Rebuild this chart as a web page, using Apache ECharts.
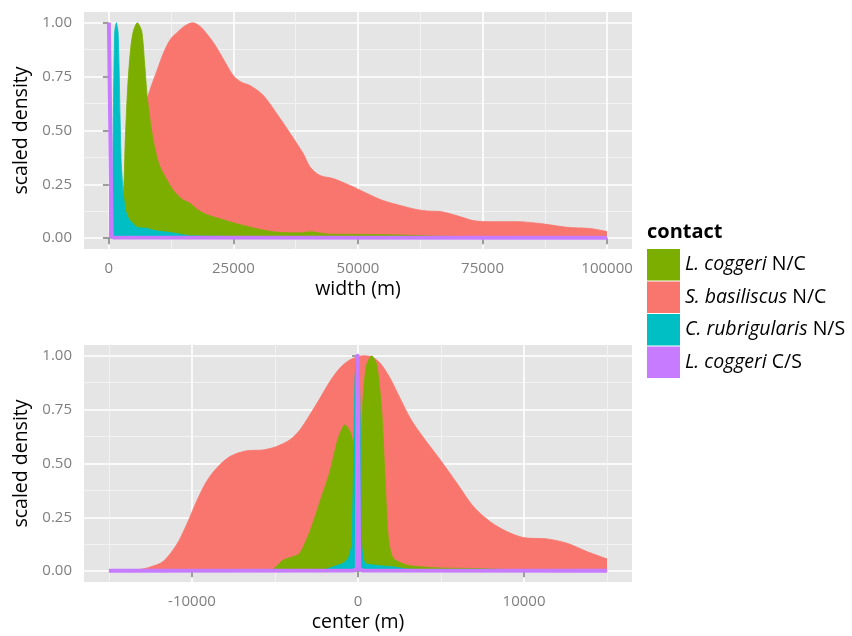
<!DOCTYPE html>
<html>
<head>
<meta charset="utf-8">
<script src="https://cdn.jsdelivr.net/npm/echarts@6/dist/echarts.min.js"></script>
<style>
  html, body { margin: 0; padding: 0; background: #ffffff; }
  #chart { width: 852px; height: 636px; }
</style>
</head>
<body>
<div id="chart"></div>
<script>
// Contact groups, in legend order
const groupNames = ['L. coggeri N/C', 'S. basiliscus N/C', 'C. rubrigularis N/S', 'L. coggeri C/S'];

// Axis breaks
const widthTicks = [0, 25000, 50000, 75000, 100000];
const widthMinor = [12500, 37500, 62500, 87500];
const centerTicks = [-10000, 0, 10000];
const centerMinor = [-15000, -5000, 5000, 15000];
const densityTicks = [0, 0.25, 0.5, 0.75, 1];
const densityMinor = [0.125, 0.375, 0.625, 0.875];

// Zone width: [width (m), scaled density]
const widthBasiliscusNC = [
  [0, 0.02], [2000, 0.12], [4000, 0.31], [6000, 0.51], [8200, 0.685], [9600, 0.775],
  [11100, 0.868], [12400, 0.925], [13700, 0.955], [15200, 0.985], [16800, 1.0], [18200, 0.985],
  [19600, 0.95], [21200, 0.9], [22900, 0.834], [24900, 0.757], [26500, 0.725], [28300, 0.709],
  [30900, 0.665], [33700, 0.578], [36400, 0.486], [39000, 0.393], [40400, 0.33], [42400, 0.291],
  [45000, 0.277], [48400, 0.245], [51800, 0.208], [55000, 0.175], [58500, 0.152], [61800, 0.133],
  [64000, 0.126], [66500, 0.124], [69800, 0.105], [73100, 0.082], [75900, 0.077], [82000, 0.077],
  [86600, 0.068], [91900, 0.051], [96600, 0.045], [100000, 0.031]
];
const widthCoggeriNC = [
  [0, 0.0], [1500, 0.02], [2400, 0.08], [3030, 0.265], [3230, 0.42], [3500, 0.574], [3840, 0.729],
  [4380, 0.884], [4900, 0.961], [5700, 1.0], [6590, 0.961], [7190, 0.806], [7710, 0.652],
  [8390, 0.528], [9060, 0.435], [10060, 0.342], [11400, 0.28], [13070, 0.218], [14740, 0.18],
  [16300, 0.162], [17600, 0.136], [19300, 0.113], [22300, 0.09], [25700, 0.067], [29700, 0.044],
  [33700, 0.028], [38400, 0.025], [40400, 0.03], [43700, 0.02], [50000, 0.018], [58500, 0.015],
  [65000, 0.01], [75000, 0.006], [85000, 0.004], [100000, 0.002]
];
const widthRubrigularisNS = [
  [0, 0.0], [500, 0.02], [700, 0.15], [890, 0.574], [1160, 0.96], [1490, 1.0], [1830, 0.96],
  [2030, 0.806], [2230, 0.574], [2490, 0.342], [2890, 0.203], [3370, 0.125], [4040, 0.087],
  [5040, 0.064], [5700, 0.05], [7700, 0.046], [9060, 0.036], [10400, 0.032], [13700, 0.022],
  [15700, 0.013], [19100, 0.01], [25000, 0.008], [32000, 0.007], [40000, 0.004], [60000, 0.002],
  [100000, 0.001]
];
const widthCoggeriCS = [
  [0, 1.0], [250, 1.0], [550, 0.01], [1000, 0.003], [100000, 0.002]
];

// Zone centre: [center (m), scaled density]
const centerBasiliscusNC = [
  [-15000, 0.0], [-14000, 0.002], [-13000, 0.01], [-12500, 0.02], [-11740, 0.045], [-10935, 0.122],
  [-10330, 0.215], [-9730, 0.323], [-9125, 0.416], [-8520, 0.478], [-7720, 0.532], [-6710, 0.559],
  [-5710, 0.563], [-4900, 0.579], [-4100, 0.61], [-3500, 0.656], [-2900, 0.726], [-2290, 0.803],
  [-1690, 0.881], [-1090, 0.943], [-480, 0.981], [320, 1.0], [830, 0.995], [1330, 0.966],
  [1930, 0.896], [2530, 0.803], [3140, 0.711], [3740, 0.641], [4950, 0.517], [5950, 0.409],
  [6950, 0.3], [7960, 0.23], [8970, 0.184], [9970, 0.156], [11380, 0.15], [12590, 0.13],
  [13790, 0.091], [15000, 0.057]
];
const centerCoggeriNC = [
  [-5500, 0.0], [-5100, 0.01], [-4500, 0.052], [-3900, 0.068], [-3500, 0.084], [-2900, 0.184],
  [-2290, 0.323], [-1690, 0.463], [-1190, 0.618], [-780, 0.68], [-480, 0.648], [-280, 0.587],
  [-100, 0.45], [100, 0.5], [320, 0.819], [520, 0.958], [830, 1.0], [1130, 0.958], [1430, 0.741],
  [1630, 0.432], [1830, 0.153], [2130, 0.06], [2940, 0.029], [3740, 0.021], [5000, 0.015],
  [7500, 0.012], [10000, 0.005], [15000, 0.002]
];
const centerRubrigularisNS = [
  [-2300, 0.0], [-1490, 0.021], [-890, 0.037], [-585, 0.06], [-380, 0.122], [-283, 0.432],
  [-180, 0.896], [-60, 1.0], [60, 0.95], [163, 0.587], [223, 0.122], [420, 0.037], [1330, 0.026],
  [2130, 0.021], [3000, 0.01], [6000, 0.005], [15000, 0.002]
];
const centerCoggeriCS = [
  [-15000, 0.002], [-300, 0.003], [-70, 0.01], [-25, 1.0], [25, 1.0], [70, 0.01], [300, 0.003],
  [15000, 0.002]
];

const FONT = '"Open Sans", "Noto Sans", sans-serif';
const TICK_GREY = '#7f7f7f';
const colours = {
  'L. coggeri N/C': '#7CAE00',
  'S. basiliscus N/C': '#F8766D',
  'C. rubrigularis N/S': '#00BFC4',
  'L. coggeri C/S': '#C77CFF'
};

function minorAxis(gridIndex, min, max, values, position) {
  return {
    type: 'value', gridIndex, min, max, position,
    axisLine: { show: false },
    axisTick: { show: false, customValues: values },
    axisLabel: { show: false, customValues: values },
    splitLine: { show: true, lineStyle: { color: '#f2f2f2', width: 1 } }
  };
}
function majorAxis(gridIndex, min, max, values, position, extra, fmt) {
  return Object.assign({
    type: 'value', gridIndex, min, max, position,
    axisLine: { show: false },
    axisTick: { show: true, customValues: values, length: 6, lineStyle: { color: TICK_GREY, width: 1.5 } },
    axisLabel: { customValues: values, color: TICK_GREY, fontSize: 15, fontFamily: FONT, margin: 12, formatter: fmt },
    splitLine: { show: true, lineStyle: { color: '#ffffff', width: 1.6 } },
    nameLocation: 'middle',
    nameTextStyle: { color: '#000000', fontSize: 19.5, fontFamily: FONT }
  }, extra);
}
const plainNumber = v => String(Math.round(v));
const twoDecimals = v => Number(v).toFixed(2);

// Each group gets its own z so fills and outlines stack group by group
function areaSeries(name, data, xi, yi, smooth, z) {
  const c = colours[name];
  const purple = name === 'L. coggeri C/S';
  return {
    name, type: 'line', data, xAxisIndex: xi, yAxisIndex: yi, z,
    showSymbol: false, symbol: 'none', smooth,
    itemStyle: { color: c },
    lineStyle: { color: c, width: purple ? 4 : 0.8, join: 'round' },
    areaStyle: { color: c, opacity: 1 },
    emphasis: { disabled: true }, silent: true
  };
}

const chart = echarts.init(document.getElementById('chart'), null, { renderer: 'canvas' });
chart.setOption({
  animation: false,
  backgroundColor: '#ffffff',
  grid: [
    { left: 84, top: 12, width: 548, height: 237, show: true, backgroundColor: '#E5E5E5', borderWidth: 0 },
    { left: 84, top: 345, width: 548, height: 237, show: true, backgroundColor: '#E5E5E5', borderWidth: 0 }
  ],
  xAxis: [
    minorAxis(0, -5000, 105000, widthMinor, 'top'),
    majorAxis(0, -5000, 105000, widthTicks, 'bottom', { name: 'width (m)', nameGap: 30 }, plainNumber),
    minorAxis(1, -16500, 16500, centerMinor, 'top'),
    majorAxis(1, -16500, 16500, centerTicks, 'bottom', { name: 'center (m)', nameGap: 30 }, plainNumber)
  ],
  yAxis: [
    minorAxis(0, -0.05, 1.05, densityMinor, 'right'),
    majorAxis(0, -0.05, 1.05, densityTicks, 'left', { name: 'scaled density', nameGap: 41, nameRotate: 90 }, twoDecimals),
    minorAxis(1, -0.05, 1.05, densityMinor, 'right'),
    majorAxis(1, -0.05, 1.05, densityTicks, 'left', { name: 'scaled density', nameGap: 41, nameRotate: 90 }, twoDecimals)
  ],
  legend: {
    data: groupNames,
    orient: 'vertical',
    left: 647, top: 249, padding: 0,
    itemWidth: 33, itemHeight: 31.5, itemGap: 1,
    icon: 'rect',
    selectedMode: false,
    itemStyle: { borderWidth: 0 },
    textStyle: {
      color: '#000000', fontSize: 19.5, fontFamily: FONT,
      rich: { sp: { color: '#000000', fontSize: 19.5, fontFamily: FONT, fontStyle: 'italic' } }
    },
    formatter: name => {
      const i = name.lastIndexOf(' ');
      return '{sp|' + name.slice(0, i) + '} ' + name.slice(i + 1);
    }
  },
  graphic: [{
    type: 'text', left: 647, top: 222,
    style: { text: 'contact', fill: '#000000', font: 'bold 20px ' + FONT }
  }],
  series: [
    areaSeries('S. basiliscus N/C', widthBasiliscusNC, 1, 1, 0.3, 2),
    areaSeries('L. coggeri N/C', widthCoggeriNC, 1, 1, 0.25, 3),
    areaSeries('C. rubrigularis N/S', widthRubrigularisNS, 1, 1, 0.15, 4),
    areaSeries('L. coggeri C/S', widthCoggeriCS, 1, 1, false, 5),
    areaSeries('S. basiliscus N/C', centerBasiliscusNC, 3, 3, 0.3, 2),
    areaSeries('L. coggeri N/C', centerCoggeriNC, 3, 3, 0.25, 3),
    areaSeries('C. rubrigularis N/S', centerRubrigularisNS, 3, 3, 0.15, 4),
    areaSeries('L. coggeri C/S', centerCoggeriCS, 3, 3, false, 5)
  ]
});
</script>
</body>
</html>
